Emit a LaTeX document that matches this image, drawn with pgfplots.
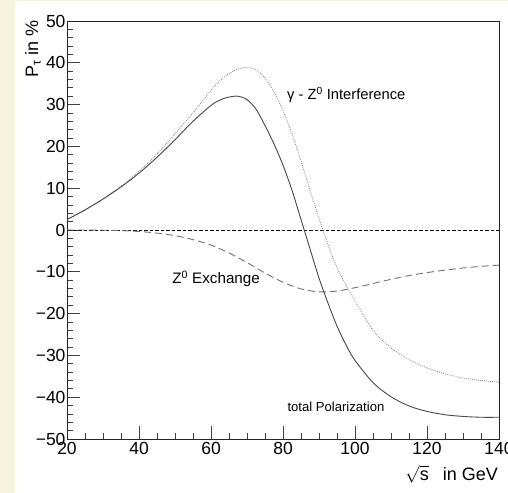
\documentclass[border=0pt]{standalone}
\usepackage{fontspec}
\setmainfont{Liberation Sans}
\usepackage{pgfplots}
\usepackage{pgfplotstable}
\pgfplotsset{compat=1.18}
\definecolor{paper}{RGB}{246,244,222}

% total tau polarization
\pgfplotstableread{
x y
20 2.5
25 4.8
30 7.4
35 10.3
40 13.6
45 17.4
50 21.6
55 26.0
60 29.8
62.5 31.1
65 31.8
67.5 32.0
70 31.2
72.5 28.9
75 25.0
77.5 20.6
80 15.5
82.5 9.5
85 2.5
87.5 -4.5
90 -11.5
92.5 -17.5
95 -23.0
97.5 -27.5
100 -31.2
105 -36.5
110 -39.9
115 -42.1
120 -43.4
125 -44.2
130 -44.6
135 -44.8
140 -44.8
}\total

% gamma - Z0 interference
\pgfplotstableread{
x y
20 2.5
25 4.8
30 7.45
35 10.5
40 14.0
45 18.2
50 23.0
55 28.0
60 33.4
62.5 35.7
65 37.4
67.5 38.5
70 38.9
72.5 38.3
75 36.3
77.5 33.0
80 28.5
82.5 23.0
85 16.5
87.5 9.5
90 2.8
92.5 -3.5
95 -9.0
97.5 -13.2
100 -17.0
105 -24.0
110 -28.2
115 -31.0
120 -33.0
125 -34.4
130 -35.4
135 -36.0
140 -36.4
}\interf

% Z0 exchange
\pgfplotstableread{
x y
20 0
25 0
30 -0.05
35 -0.15
40 -0.35
45 -0.75
50 -1.35
55 -2.3
60 -3.6
65 -5.5
70 -7.8
75 -10.3
80 -12.5
85 -14.1
90 -14.8
95 -14.6
100 -13.8
105 -12.8
110 -11.8
115 -10.9
120 -10.2
125 -9.6
130 -9.1
135 -8.7
140 -8.4
}\zexch

\begin{document}
\begin{tikzpicture}[x=1bp,y=1bp]
\path[use as bounding box, fill=paper] (0,0) rectangle (508,493);
\fill[white] (15,0) rectangle (508,492);
\begin{axis}[
  at={(67bp,54bp)}, anchor=south west,
  scale only axis, width=432bp, height=418bp,
  xmin=20, xmax=140, ymin=-50, ymax=50,
  xtick={20,40,...,140}, ytick={-50,-40,...,50},
  xticklabels={20,40,60,80,100,120,140},
  yticklabels={−50,−40,−30,−20,−10,0,10,20,30,40,50},
  minor x tick num=3, minor y tick num=4,
  xtick pos=bottom, ytick pos=left, tick align=inside,
  major tick length=12.5bp, minor tick length=6bp,
  tick style={line width=0.8bp, black!75},
  axis line style={line width=0.9bp, black!85},
  ticklabel style={font=\fontsize{17.5bp}{20bp}\selectfont},
  yticklabel style={xshift=2bp},
  xlabel={$\sqrt{\mbox{s}}$\hspace{14bp}in GeV},
  xlabel style={at={(rel axis cs:1,0)}, anchor=base east, yshift=-41bp, xshift=-1bp,
    inner sep=0pt, font=\fontsize{18bp}{20bp}\selectfont},
  ylabel={P\textsubscript{τ} in \%},
  % shifts act in the rotated frame of the label
  ylabel style={at={(rel axis cs:0,1)}, anchor=base east, xshift=1bp, yshift=29bp,
    inner sep=0pt, font=\fontsize{18bp}{20bp}\selectfont},
]
\addplot[black, line width=0.7bp, dash pattern=on 3.5bp off 2bp] coordinates {(20,0) (140,0)};
\addplot[smooth, black!55, line width=0.9bp, dash pattern=on 7bp off 4bp] table {\zexch};
\addplot[smooth, black!50, line width=0.8bp, dash pattern=on 0.8bp off 1.2bp] table {\interf};
\addplot[smooth, black!72, line width=0.9bp] table {\total};
\node[anchor=west, inner sep=0pt, font=\fontsize{14.7bp}{16bp}\selectfont] at (axis cs:81.1,32.3) {γ - Z\textsuperscript{0} Interference};
\node[anchor=west, inner sep=0pt, font=\fontsize{15.2bp}{17bp}\selectfont] at (axis cs:49.2,-11.7) {Z\textsuperscript{0} Exchange};
\node[anchor=west, inner sep=0pt, font=\fontsize{13.1bp}{15bp}\selectfont] at (axis cs:81.2,-42.3) {total Polarization};
\end{axis}
\end{tikzpicture}
\end{document}
